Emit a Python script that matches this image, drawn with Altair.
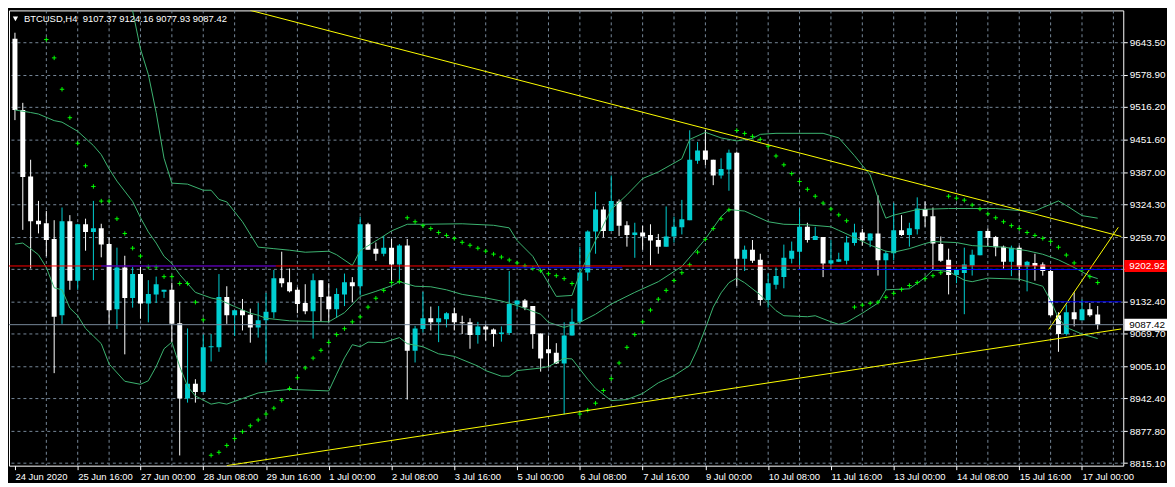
import altair as alt
import pandas as pd

# ---------------- data ----------------
symbol = "BTCUSD,H4"
last_bar = ["9107.37", "9124.16", "9077.93", "9087.42"]

time_labels = ["24 Jun 2020", "25 Jun 16:00", "27 Jun 00:00", "28 Jun 08:00", "29 Jun 16:00",
               "1 Jul 00:00", "2 Jul 08:00", "3 Jul 16:00", "5 Jul 00:00", "6 Jul 08:00",
               "7 Jul 16:00", "9 Jul 00:00", "10 Jul 08:00", "11 Jul 16:00", "13 Jul 00:00",
               "14 Jul 08:00", "15 Jul 16:00", "17 Jul 00:00"]
label_bars = [0, 8, 16, 24, 32, 40, 48, 56, 64, 72, 80, 88, 96, 104, 112, 120, 128, 136]
grid_bars = [4, 8, 12, 16, 20, 24, 28, 32, 36, 40, 44, 48, 52, 56, 60, 64, 68, 72, 76, 80,
             84, 88, 92, 96, 100, 104, 108, 112, 116, 120, 124, 128, 132, 136, 140]
price_ticks = [8815.1, 8877.8, 8942.4, 9005.1, 9069.7, 9132.4, 9197.0, 9259.7,
               9324.3, 9387.0, 9451.6, 9516.2, 9578.9, 9643.5]

opens = [9650, 9510, 9379, 9292, 9287, 9256, 9106, 9291, 9174, 9285,
         9270, 9277, 9246, 9118, 9200, 9140, 9187, 9129, 9147, 9152,
         9156, 9090, 8942, 8971, 8955, 9043, 9043, 9142, 9106, 9116,
         9107, 9082, 9096, 9112, 9179, 9171, 9156, 9130, 9114, 9175,
         9143, 9118, 9147, 9171, 9163, 9285, 9237, 9227, 9239, 9206,
         9243, 9036, 9079, 9100, 9092, 9098, 9110, 9092, 9092, 9067,
         9084, 9078, 9069, 9071, 9127, 9135, 9124, 9070, 9039, 9032,
         9011, 9066, 9093, 9190, 9271, 9314, 9272, 9330, 9283, 9264,
         9269, 9264, 9254, 9241, 9261, 9279, 9293, 9410, 9430, 9412,
         9381, 9393, 9426, 9217, 9235, 9215, 9136, 9166, 9181, 9217,
         9231, 9280, 9254, 9260, 9208, 9211, 9213, 9248, 9269, 9253,
         9267, 9214, 9228, 9273, 9264, 9275, 9315, 9301, 9246, 9215,
         9185, 9189, 9204, 9224, 9272, 9260, 9241, 9211, 9239, 9202,
         9209, 9206, 9193, 9106, 9069, 9112, 9096, 9118, 9107.37]
highs = [9662, 9524, 9412, 9331, 9311, 9293, 9318, 9303, 9286, 9296,
         9331, 9286, 9259, 9239, 9223, 9201, 9201, 9175, 9182, 9156,
         9170, 9132, 9080, 8980, 9068, 9069, 9187, 9163, 9116, 9138,
         9119, 9130, 9150, 9195, 9231, 9198, 9161, 9167, 9188, 9175,
         9169, 9159, 9188, 9181, 9300, 9288, 9249, 9262, 9256, 9246,
         9256, 9085, 9152, 9123, 9124, 9112, 9121, 9105, 9100, 9093,
         9089, 9080, 9084, 9193, 9135, 9138, 9124, 9070, 9066, 9051,
         9092, 9119, 9241, 9273, 9349, 9320, 9381, 9334, 9291, 9288,
         9282, 9285, 9266, 9320, 9300, 9333, 9470, 9447, 9471, 9412,
         9415, 9432, 9428, 9243, 9254, 9227, 9188, 9200, 9245, 9251,
         9316, 9288, 9280, 9260, 9254, 9229, 9262, 9286, 9276, 9267,
         9342, 9233, 9327, 9303, 9288, 9338, 9330, 9318, 9261, 9237,
         9196, 9239, 9235, 9272, 9277, 9262, 9243, 9243, 9243, 9213,
         9227, 9210, 9195, 9112, 9127, 9151, 9137, 9130, 9124.16]
lows = [9490, 9274, 9198, 9267, 9222, 8992, 9089, 9156, 9156, 9233,
        9175, 9220, 9087, 9079, 9029, 9121, 9099, 9092, 9130, 9140,
        9053, 8830, 8934, 8934, 8955, 9015, 9034, 9089, 9065, 9076,
        9052, 9062, 9013, 9100, 9161, 9151, 9110, 9108, 9060, 9094,
        9092, 9101, 9124, 9132, 9145, 9235, 9213, 9222, 9169, 9169,
        8940, 9013, 9072, 9076, 9053, 9082, 9076, 9069, 9040, 9050,
        9056, 9044, 9054, 9067, 9118, 9116, 9040, 8995, 9003, 9010,
        8911, 9066, 9089, 9174, 9227, 9259, 9272, 9262, 9241, 9219,
        9235, 9204, 9227, 9241, 9249, 9265, 9293, 9404, 9401, 9362,
        9375, 9351, 9164, 9193, 9209, 9125, 9121, 9157, 9159, 9208,
        9201, 9249, 9254, 9181, 9201, 9211, 9206, 9243, 9243, 9240,
        9184, 9156, 9214, 9262, 9241, 9265, 9280, 9196, 9211, 9147,
        9169, 9108, 9184, 9224, 9242, 9222, 9198, 9183, 9174, 9153,
        9174, 9184, 9104, 9034, 9066, 9084, 9096, 9103, 9077.93]
closes = [9510, 9378, 9291, 9285, 9254, 9103, 9291, 9174, 9285, 9270,
          9277, 9245, 9116, 9200, 9140, 9187, 9129, 9148, 9167, 9156,
          9089, 8942, 8971, 8955, 9043, 9045, 9142, 9106, 9116, 9106,
          9082, 9096, 9113, 9179, 9169, 9153, 9128, 9114, 9175, 9142,
          9118, 9148, 9171, 9163, 9285, 9235, 9227, 9239, 9206, 9243,
          9036, 9080, 9100, 9092, 9100, 9110, 9092, 9090, 9067, 9084,
          9078, 9069, 9072, 9128, 9135, 9121, 9069, 9021, 9031, 9011,
          9066, 9093, 9190, 9271, 9314, 9272, 9331, 9282, 9264, 9269,
          9261, 9253, 9241, 9261, 9280, 9295, 9412, 9430, 9412, 9381,
          9394, 9426, 9217, 9235, 9213, 9136, 9169, 9183, 9219, 9233,
          9280, 9254, 9262, 9208, 9214, 9216, 9249, 9269, 9253, 9267,
          9214, 9228, 9273, 9264, 9277, 9316, 9301, 9247, 9213, 9185,
          9196, 9206, 9225, 9272, 9258, 9240, 9211, 9239, 9202, 9211,
          9203, 9193, 9106, 9069, 9112, 9098, 9118, 9106, 9087.42]

# Parabolic SAR, bars 4..138
sar_first_bar = 4
sar_values = [9648.6, 9612.5, 9550.7, 9494.7, 9444.5, 9400.1, 9359.5, 9330.6, 9330.6, 9295.8,
              9266.9, 9237.9, 9222.4, 9201.2, 9201.2, 9181.9, 9181.9, 9168.4, 9168.4, 9131.7,
              9096.9,
              8830.4, 8836.2, 8849.7, 8863.3, 8876.8, 8888.4, 8899.9, 8911.5, 8923.1, 8938.6,
              8961.7, 8983.0, 9002.3, 9021.6, 9037.0, 9052.5, 9067.9, 9079.5, 9093.0, 9102.7,
              9122.0, 9139.4, 9154.9, 9170.3, 9172.2,
              9297.8, 9290.0, 9282.3, 9276.5, 9268.8, 9263.0, 9257.2, 9249.5, 9243.7, 9237.9,
              9232.1, 9226.3, 9220.5, 9214.7, 9208.9, 9203.1, 9198.0, 9193.5, 9187.7, 9183.8,
              9178.0, 9168.4,
              8911.5, 8919.2, 8932.8, 8957.9, 8981.1, 9012.0, 9042.8, 9067.9, 9093.0, 9116.2,
              9137.5, 9154.9, 9174.2, 9189.6, 9205.1, 9230.2, 9255.3, 9276.5, 9295.8, 9313.2,
              9469.6, 9463.8, 9458.0, 9452.2, 9438.7, 9419.4, 9402.0, 9384.7, 9369.2, 9353.8,
              9340.2, 9326.7, 9315.1, 9303.5, 9291.9,
              9122.0, 9125.9, 9129.7, 9131.7, 9141.3, 9149.1, 9156.8, 9164.5, 9170.3, 9178.0,
              9183.8, 9189.6,
              9340.2, 9336.4, 9332.5, 9322.8, 9315.1, 9305.5, 9297.8, 9290.0, 9282.3, 9276.5,
              9268.8, 9263.0, 9257.2, 9251.4, 9239.8, 9224.4, 9208.9, 9195.4, 9181.9, 9170.3]

# Bollinger bands (bar index, value)
bb_upper_bars = [14, 15, 16, 17, 18, 19, 20, 22, 24, 25, 26, 27, 29, 31, 33, 35, 37, 40, 41, 43,
                 44, 47, 48, 50, 52, 57, 61, 63, 64, 66, 67, 69, 71, 72, 74, 76, 78, 80, 82, 85,
                 86, 88, 90, 92, 94, 95, 97, 103, 105, 107, 109, 110, 111, 112, 115, 119, 125, 128,
                 130, 131, 133, 134, 136, 138]
bb_upper_vals = [9770, 9705, 9630, 9580, 9505, 9415, 9366, 9364, 9352, 9352, 9334, 9329, 9290, 9240,
                 9237, 9234, 9230, 9232, 9225, 9204, 9233, 9262, 9272, 9285, 9285, 9286, 9283, 9278,
                 9253, 9222, 9195, 9143, 9145, 9188, 9253, 9314, 9343, 9375, 9388, 9414, 9452, 9466,
                 9455, 9449, 9454, 9462, 9464, 9464, 9455, 9420, 9382, 9337, 9297, 9303, 9314, 9316,
                 9316, 9312, 9311, 9318, 9331, 9322, 9302, 9297]
bb_mid_bars = [0, 2, 3, 5, 6, 7, 8, 10, 11, 12, 13, 15, 16, 17, 18, 19, 20, 21, 23, 25,
               26, 28, 30, 31, 32, 35, 40, 42, 44, 46, 48, 49, 51, 53, 55, 57, 60, 62, 64, 67,
               68, 70, 72, 74, 76, 79, 82, 84, 85, 88, 90, 91, 93, 96, 98, 101, 104, 105, 107, 109,
               111, 112, 114, 116, 117, 120, 122, 126, 129, 131, 133, 135, 137, 138]
bb_mid_vals = [9510, 9505, 9502, 9489, 9486, 9477, 9468, 9440, 9422, 9394, 9370, 9330, 9298, 9270,
               9248, 9222, 9208, 9186, 9151, 9140, 9137, 9123, 9110, 9106, 9100, 9095, 9093, 9111,
               9143, 9153, 9164, 9172, 9163, 9162, 9156, 9147, 9140, 9134, 9125, 9108, 9092, 9082,
               9092, 9108, 9128, 9151, 9172, 9192, 9202, 9256, 9300, 9314, 9311, 9290, 9285, 9284,
               9280, 9273, 9259, 9244, 9232, 9230, 9237, 9247, 9251, 9249, 9243, 9240, 9233, 9226,
               9215, 9200, 9183, 9178]
bb_low_bars = [0, 1, 2, 3, 4, 5, 6, 7, 8, 9, 10, 11, 12, 14, 16, 17, 18, 19, 20, 21,
               22, 23, 25, 26, 27, 29, 31, 33, 35, 40, 41, 42, 43, 44, 45, 47, 49, 50, 52, 54,
               56, 59, 60, 62, 63, 64, 67, 68, 70, 71, 72, 73, 74, 76, 78, 80, 82, 84, 86, 87,
               88, 89, 90, 91, 92, 93, 95, 97, 98, 101, 102, 104, 105, 106, 108, 110, 111, 114, 116, 117,
               119, 121, 122, 124, 128, 131, 132, 133, 134, 136, 138]
bb_low_vals = [9246, 9248, 9237, 9225, 9200, 9160, 9156, 9120, 9105, 9080, 9065, 9050, 9010, 8976,
               8970, 8977, 9005, 9040, 9053, 9005, 8966, 8947, 8931, 8934, 8931, 8942, 8953, 8957,
               8960, 8957, 8990, 9022, 9048, 9044, 9053, 9052, 9062, 9050, 9044, 9030, 9025, 9006,
               8997, 8986, 8986, 8997, 9002, 9005, 9021, 9020, 9000, 8980, 8962, 8938, 8940, 8952,
               8973, 8987, 9007, 9040, 9080, 9122, 9150, 9170, 9179, 9170, 9146, 9115, 9105, 9103,
               9105, 9093, 9088, 9092, 9110, 9130, 9156, 9158, 9180, 9195, 9192, 9175, 9172, 9179,
               9177, 9163, 9135, 9100, 9082, 9069, 9060]

# Drawn objects
trend_upper = ([30.0, 141.0], [9706.0, 9261.0])
trend_lower = ([27.0, 141.0], [8810.0, 9079.0])
trend_steep = ([131.75, 140.625], [9078.0, 9279.0])
hline_red = 9202.92
blue_from = [11.0, 55.4, 99.75, 131.75]
blue_to = [33.25, 77.4, 141.0, 141.0]
blue_price = [9202.9, 9199.5, 9196.0, 9132.4]
bid_price = 9087.42

# ---------------- styling ----------------
W, H = 1121, 458
FONT = "Liberation Sans"
GRID = "#778899"
CYAN = "#00CED1"
GREEN = "#3CB371"

xs = alt.Scale(domain=[-0.125, 140.625], nice=False, zero=False)
ys = alt.Scale(domain=[8809.9, 9705.9], nice=False, zero=False)

label_expr = "[" + ",".join("'%s'" % t for t in time_labels) + "][round(datum.value/8)]"
xaxis = alt.Axis(values=label_bars, labelExpr=label_expr, grid=False, domain=False,
                 tickColor="white", tickSize=4, labelColor="white", labelFont=FONT,
                 labelFontSize=9.5, labelAlign="left", labelPadding=2, labelOverlap=False,
                 labelFlush=False, title=None)
yaxis = alt.Axis(orient="right", values=price_ticks, format=".2f", grid=True,
                 gridColor=GRID, gridDash=[3, 3], gridOpacity=1, domain=False,
                 tickColor="white", tickSize=4, labelColor="white", labelFont=FONT,
                 labelFontSize=10, labelPadding=2, labelOverlap=False, title=None)


def X(f):
    return alt.X(f, type="quantitative", scale=xs, axis=xaxis)


def Y(f):
    return alt.Y(f, type="quantitative", scale=ys, axis=yaxis)


candles = pd.DataFrame({"i": list(range(len(opens))), "o": opens, "h": highs,
                        "l": lows, "c": closes})
candles["dir"] = ["down" if c < o else "up" for o, c in zip(opens, closes)]
ccol = alt.Color("dir:N", scale=alt.Scale(domain=["up", "down"], range=[CYAN, "white"]),
                 legend=None)

grid_df = pd.DataFrame({"g": grid_bars})
vgrid = alt.Chart(grid_df).mark_rule(color=GRID, strokeDash=[3, 3], strokeWidth=1).encode(
    x=X("g"))

wicks = alt.Chart(candles).mark_rule(strokeWidth=1, clip=True).encode(
    x=X("i"), y=Y("l"), y2="h:Q", color=ccol)
bodies = alt.Chart(candles).mark_bar(size=5, clip=True).encode(
    x=X("i"), y=Y("o"), y2="c:Q", color=ccol)

bb = pd.concat([
    pd.DataFrame({"i": bb_upper_bars, "v": bb_upper_vals, "band": "upper"}),
    pd.DataFrame({"i": bb_mid_bars, "v": bb_mid_vals, "band": "middle"}),
    pd.DataFrame({"i": bb_low_bars, "v": bb_low_vals, "band": "lower"}),
])
bands = alt.Chart(bb).mark_line(color=GREEN, strokeWidth=1, clip=True).encode(
    x=X("i"), y=Y("v"), detail="band:N")

sar_df = pd.DataFrame({"i": list(range(sar_first_bar, sar_first_bar + len(sar_values))),
                       "v": sar_values})
sar = alt.Chart(sar_df).mark_point(shape="M-1,0H1M0,-1V1", size=20, filled=False,
                                   color="#00FF00", strokeWidth=1, opacity=1, clip=True).encode(
    x=X("i"), y=Y("v"))

tl = pd.concat([
    pd.DataFrame({"i": trend_upper[0], "v": trend_upper[1], "id": "a"}),
    pd.DataFrame({"i": trend_lower[0], "v": trend_lower[1], "id": "b"}),
    pd.DataFrame({"i": trend_steep[0], "v": trend_steep[1], "id": "c"}),
])
trends = alt.Chart(tl).mark_line(color="#FFFF00", strokeWidth=1, clip=True).encode(
    x=X("i"), y=Y("v"), detail="id:N")

red = alt.Chart(pd.DataFrame({"p": [hline_red]})).mark_rule(color="#FF0000", strokeWidth=1).encode(
    y=Y("p"))
blue = alt.Chart(pd.DataFrame({"a": blue_from, "b": blue_to, "p": blue_price})).mark_rule(
    color="#0000FF", strokeWidth=1, clip=True).encode(x=X("a"), x2="b:Q", y=Y("p"))
bid = alt.Chart(pd.DataFrame({"p": [bid_price]})).mark_rule(color=GRID, strokeWidth=1).encode(
    y=Y("p"))

# price boxes on the right axis
red_df = pd.DataFrame({"p": [hline_red], "t": ["%.2f" % hline_red]})
bid_df = pd.DataFrame({"p": [bid_price], "t": ["%.2f" % bid_price]})
red_box = alt.Chart(red_df).mark_rect(clip=False, yOffset=-6, y2Offset=6, color="#FF0000").encode(
    x=alt.value(W + 1), x2=alt.value(W + 44), y=Y("p"), y2="p:Q")
red_txt = alt.Chart(red_df).mark_text(align="left", baseline="middle", font=FONT, fontSize=10,
                                      color="white", clip=False).encode(
    x=alt.value(W + 6), y=Y("p"), text="t:N")
bid_box = alt.Chart(bid_df).mark_rect(clip=False, yOffset=-6, y2Offset=6, color="white").encode(
    x=alt.value(W + 1), x2=alt.value(W + 44), y=Y("p"), y2="p:Q")
bid_txt = alt.Chart(bid_df).mark_text(align="left", baseline="middle", font=FONT, fontSize=10,
                                      color="black", clip=False).encode(
    x=alt.value(W + 6), y=Y("p"), text="t:N")

# title inside the plot
title_df = pd.DataFrame({"t": [symbol + "\u00a0\u00a0" + " ".join(last_bar)]})
tri = alt.Chart(title_df).mark_point(shape="triangle-down", filled=True, color="white",
                                     size=28, opacity=1).encode(
    x=alt.value(6.5), y=alt.value(8.5))
title = alt.Chart(title_df).mark_text(align="left", baseline="middle", font=FONT, fontSize=9.5,
                                      color="white").encode(
    x=alt.value(15), y=alt.value(9), text="t:N")

chart = alt.layer(vgrid, wicks, bodies, bands, sar, trends, red, blue, bid,
                  red_box, red_txt, bid_box, bid_txt, tri, title).properties(
    width=W, height=H, padding=0, background="black"
).configure_view(stroke="white", strokeWidth=1, fill="black")

chart.save("out.html", embed_options={"renderer": "svg", "actions": False})
